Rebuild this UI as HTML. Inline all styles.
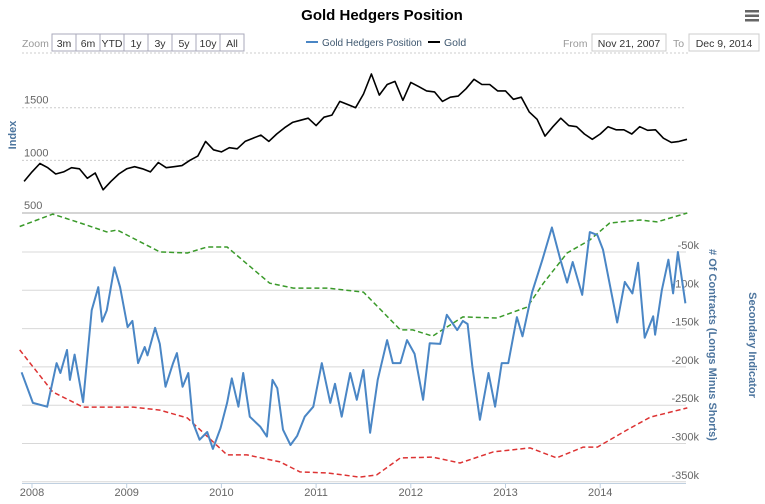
<!DOCTYPE html>
<html><head><meta charset="utf-8"><style>
body{margin:0;background:#fff;font-family:"Liberation Sans",Arial,sans-serif;}
svg text{font-family:"Liberation Sans",Arial,sans-serif;}
</style></head><body>
<svg id="c" width="765" height="499" xmlns="http://www.w3.org/2000/svg">
<text x="382" y="20" text-anchor="middle" font-size="15" font-weight="bold" fill="#000">Gold Hedgers Position</text>
<g><rect x="745" y="10" width="14" height="2.5" fill="#666"/><rect x="745" y="14.5" width="14" height="2.5" fill="#666"/><rect x="745" y="19" width="14" height="2.5" fill="#666"/></g>
<text x="22" y="47" font-size="10.5" fill="#999">Zoom</text>
<g id="zb"></g>
<g>
<g><line x1="306" y1="42" x2="318" y2="42" stroke="#4a86c5" stroke-width="2"/><text x="322" y="46" font-size="10.5" fill="#3e576f" textLength="100" lengthAdjust="spacingAndGlyphs">Gold Hedgers Position</text></g>
<g><line x1="428" y1="42" x2="440" y2="42" stroke="#000" stroke-width="2"/><text x="444" y="46" font-size="10.5" fill="#3e576f">Gold</text></g>
</g>
<text x="563" y="47" font-size="10.5" fill="#999">From</text>
<rect x="592" y="34" width="74" height="17" fill="#fff" stroke="#ccc"/>
<text x="629" y="47" font-size="10.5" fill="#333" text-anchor="middle">Nov 21, 2007</text>
<text x="673" y="47" font-size="10.5" fill="#999">To</text>
<rect x="689" y="34" width="70" height="17" fill="#fff" stroke="#ccc"/>
<text x="724" y="47" font-size="10.5" fill="#333" text-anchor="middle">Dec 9, 2014</text>
<line x1="22" y1="53" x2="690" y2="53" stroke="#ccc" stroke-dasharray="2,2"/>
<g id="grid"></g>
<g id="series"></g>
<text transform="translate(16,135) rotate(-90)" text-anchor="middle" font-size="11" font-weight="bold" fill="#4d759e">Index</text>
<text transform="translate(709,345) rotate(90)" text-anchor="middle" font-size="11" font-weight="bold" fill="#4d759e"># Of Contracts (Longs Minus Shorts)</text>
<text transform="translate(749,345) rotate(90)" text-anchor="middle" font-size="11" font-weight="bold" fill="#4d759e">Secondary Indicator</text>
</svg>
<script>
const zoomButtons=["3m","6m","YTD","1y","3y","5y","10y","All"];
const goldTicks=[500,1000,1500];
const hedgeTicks=[-50,-100,-150,-200,-250,-300,-350];
const yearTicks=[2008,2009,2010,2011,2012,2013,2014];
const goldValues=[800,890,970,930,870,890,930,920,830,880,720,800,870,920,940,920,890,980,930,940,950,1000,1040,1180,1100,1080,1120,1110,1180,1210,1240,1180,1250,1310,1360,1380,1400,1330,1410,1430,1560,1530,1500,1630,1820,1620,1720,1750,1570,1740,1700,1660,1650,1560,1600,1610,1680,1770,1720,1720,1660,1660,1580,1600,1460,1390,1230,1320,1400,1330,1320,1250,1200,1250,1320,1290,1290,1250,1320,1285,1290,1210,1170,1180,1200];
const hedgeDates=[2007.89,2008.01,2008.16,2008.26,2008.30,2008.37,2008.40,2008.45,2008.54,2008.63,2008.70,2008.74,2008.79,2008.87,2008.93,2009.01,2009.06,2009.12,2009.19,2009.22,2009.30,2009.35,2009.41,2009.49,2009.53,2009.59,2009.65,2009.70,2009.77,2009.85,2009.91,2009.99,2010.06,2010.11,2010.18,2010.23,2010.30,2010.41,2010.48,2010.54,2010.59,2010.65,2010.73,2010.80,2010.88,2010.97,2011.06,2011.15,2011.20,2011.27,2011.36,2011.43,2011.50,2011.57,2011.65,2011.75,2011.81,2011.89,2011.96,2012.04,2012.13,2012.20,2012.31,2012.38,2012.49,2012.55,2012.60,2012.65,2012.73,2012.82,2012.89,2012.96,2013.03,2013.12,2013.18,2013.28,2013.39,2013.49,2013.58,2013.65,2013.71,2013.81,2013.89,2013.97,2014.03,2014.18,2014.26,2014.34,2014.40,2014.47,2014.56,2014.58,2014.65,2014.72,2014.77,2014.82,2014.90];
const hedgeValues=[-207,-247,-252,-195,-208,-178,-217,-184,-246,-126,-96,-141,-126,-70,-96,-148,-140,-195,-174,-185,-149,-170,-226,-195,-182,-226,-208,-273,-295,-285,-307,-280,-247,-215,-252,-208,-265,-278,-291,-217,-228,-282,-302,-290,-265,-252,-195,-247,-222,-265,-208,-243,-204,-286,-217,-165,-195,-195,-165,-183,-243,-169,-170,-132,-152,-140,-144,-200,-269,-208,-252,-195,-195,-135,-160,-103,-60,-18,-60,-90,-63,-106,-24,-28,-47,-142,-89,-104,-64,-162,-134,-158,-100,-60,-104,-50,-117];
const upperDates=[2007.87,2008.22,2008.51,2008.79,2008.90,2009.35,2009.64,2009.85,2010.06,2010.51,2010.76,2011.12,2011.50,2011.89,2012.02,2012.23,2012.55,2012.91,2013.23,2013.40,2013.65,2013.89,2014.10,2014.42,2014.60,2014.92];
const upperValues=[95,99.6,96.3,93,93.7,85.6,85.2,87.4,87.4,74,72.2,72.2,70.7,56.7,56.7,54.4,61.5,61.1,65.2,74,85.2,90,96.3,97.4,96.7,100];
const lowerDates=[2007.87,2008.22,2008.54,2009.07,2009.35,2009.64,2010.06,2010.27,2010.62,2010.83,2011.12,2011.46,2011.64,2011.89,2012.23,2012.52,2012.87,2013.26,2013.54,2013.82,2013.97,2014.28,2014.53,2014.92];
const lowerValues=[49.3,33.7,28.1,28.1,27,24.1,10.4,10.4,7.8,4.1,3.7,2.2,3,9.3,9.6,7.4,11.5,13,9.3,13.3,13.3,19.6,24.4,27.8];

const NS="http://www.w3.org/2000/svg";
const L=22,R=686;
function xS(t){return 32+(t-2008)*94.7;}
function yGold(v){return 213-(v-500)*0.1053;}
function yHedge(v){return 252+(-50-v)/50*38.3;}
function ySec(v){return 483-v*2.7;}
function mk(tag,attrs,parent){const e=document.createElementNS(NS,tag);for(const k in attrs)e.setAttribute(k,attrs[k]);parent.appendChild(e);return e;}
const zb=document.getElementById('zb'),grid=document.getElementById('grid'),ser=document.getElementById('series');
let bx=52;
zoomButtons.forEach((b,i)=>{const w=24;const g=mk('g',{},zb);


mk('rect',{x:bx,y:34,width:w,height:17,fill:'#fff',stroke:'#aab'},g);
const t=mk('text',{x:bx+w/2,y:47,'font-size':10.5,'text-anchor':'middle',fill:'#333'},g);t.textContent=b;bx+=w;});
goldTicks.forEach(v=>{const y=yGold(v);const ln=mk('line',{x1:L,x2:R,y1:y,y2:y,stroke:v===500?'#aaa':'#ccc','stroke-dasharray':v===500?'':'2,2'},grid);


const t=mk('text',{x:24,y:y-4,'font-size':11,fill:'#666'},grid);t.textContent=v;

});
hedgeTicks.forEach(v=>{const y=yHedge(v);const ln=mk('line',{x1:L,x2:R,y1:y,y2:y,stroke:'#d8d8d8'},grid);


const t=mk('text',{x:699,y:y-3,'font-size':11,fill:'#666','text-anchor':'end'},grid);t.textContent=v+'k';

});
const ax=mk('line',{x1:L,x2:R,y1:483.5,y2:483.5,stroke:'#c0d0e0'},grid);


yearTicks.forEach(yr=>{const x=xS(yr);mk('line',{x1:x,x2:x,y1:483,y2:488,stroke:'#c0d0e0'},grid);
const t=mk('text',{x:x,y:496,'font-size':11,fill:'#666','text-anchor':'middle'},grid);t.textContent=yr;

});
function path(xs,ys,fx,fy,attrs,name){let d='';xs.forEach((x,i)=>{if(i<ys.length)d+=(i?'L':'M')+fx(x).toFixed(1)+','+fy(ys[i]).toFixed(1);});
const p=mk('path',Object.assign({d:d,fill:'none','stroke-linejoin':'round'},attrs),ser);

}
const goldDates=goldValues.map((v,i)=>2007.917+i/12);
path(upperDates,upperValues,xS,ySec,{stroke:'#3a9a2a','stroke-width':1.5,'stroke-dasharray':'5,3'},'upper-indicator-line');
path(lowerDates,lowerValues,xS,ySec,{stroke:'#d33','stroke-width':1.5,'stroke-dasharray':'5,3'},'lower-indicator-line');
path(hedgeDates,hedgeValues,xS,yHedge,{stroke:'#4a86c5','stroke-width':2},'hedgers-position-line');
path(goldDates,goldValues,xS,yGold,{stroke:'#000','stroke-width':1.6},'gold-price-line');
</script>
</body></html>
